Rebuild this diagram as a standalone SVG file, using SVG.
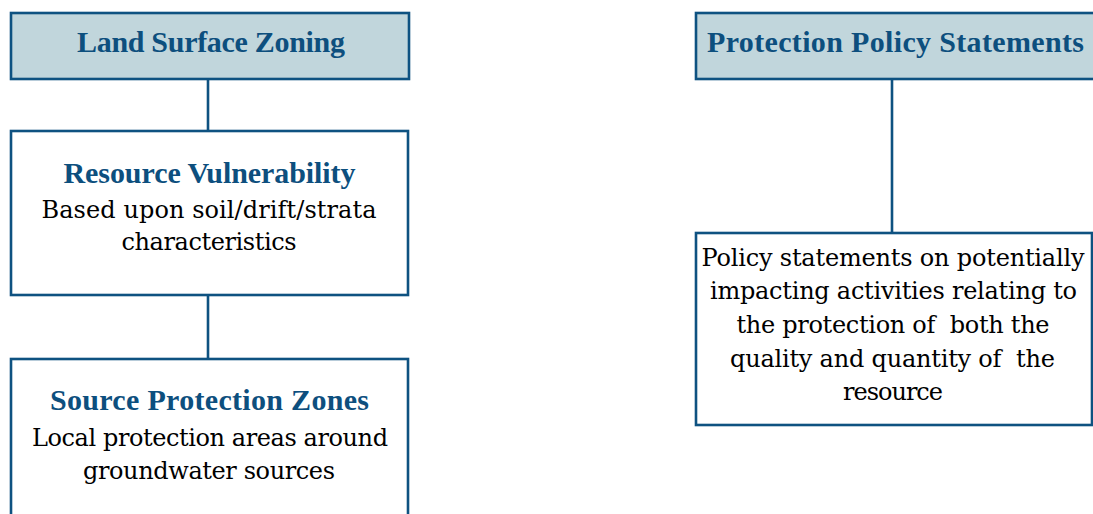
<svg xmlns="http://www.w3.org/2000/svg" width="1093" height="514" viewBox="0 0 1093 514">
  <style>
    .box { fill: #ffffff; stroke: #0e5281; stroke-width: 2.6; }
    .head { fill: #c1d6dc; stroke: #0e5281; stroke-width: 2.6; }
    .link { stroke: #0e5281; stroke-width: 2.6; fill: none; }
    .title { font-family: "Liberation Serif", "DejaVu Serif", serif; font-weight: bold; font-size: 30px; fill: #0d4f7e; text-anchor: middle; }
    .sub { font-family: "Liberation Serif", "DejaVu Serif", serif; font-weight: bold; font-size: 30px; fill: #0d4f7e; text-anchor: middle; }
    .body { font-family: "DejaVu Serif", "Liberation Serif", serif; font-size: 24px; fill: #000000; text-anchor: middle; white-space: pre; }
  </style>

  <!-- connectors -->
  <g id="connectors">
    <line class="link" x1="208" y1="79" x2="208" y2="131"/>
    <line class="link" x1="208" y1="295" x2="208" y2="359"/>
    <line class="link" x1="892" y1="79" x2="892" y2="233"/>
  </g>

  <!-- left column -->
  <g id="land-surface-zoning">
    <rect class="head" x="11" y="13" width="398" height="66"/>
    <text class="title" x="211" y="52" textLength="268">Land Surface Zoning</text>
  </g>

  <g id="resource-vulnerability">
    <rect class="box" x="11" y="131" width="397" height="164"/>
    <text class="sub" x="209.5" y="183" textLength="292">Resource Vulnerability</text>
    <text class="body" x="209" y="218" textLength="335">Based upon soil/drift/strata</text>
    <text class="body" x="209" y="250" textLength="175">characteristics</text>
  </g>

  <g id="source-protection-zones">
    <rect class="box" x="11" y="359" width="397" height="170"/>
    <text class="sub" x="209.5" y="410" textLength="319">Source Protection Zones</text>
    <text class="body" x="210" y="446" textLength="356">Local protection areas around</text>
    <text class="body" x="209" y="479" textLength="252">groundwater sources</text>
  </g>

  <!-- right column -->
  <g id="protection-policy-statements">
    <rect class="head" x="696" y="13" width="402" height="66"/>
    <text class="title" x="895.5" y="52" textLength="377">Protection Policy Statements</text>
  </g>

  <g id="policy-statements">
    <rect class="box" x="696" y="233" width="396" height="192"/>
    <text class="body" x="893" y="266" textLength="383">Policy statements on potentially</text>
    <text class="body" x="893.5" y="299" textLength="367">impacting activities relating to</text>
    <text class="body" x="893" y="333" textLength="313">the protection of  both the</text>
    <text class="body" x="892.5" y="367" textLength="325">quality and quantity of  the</text>
    <text class="body" x="893" y="400" textLength="100">resource</text>
  </g>
</svg>
